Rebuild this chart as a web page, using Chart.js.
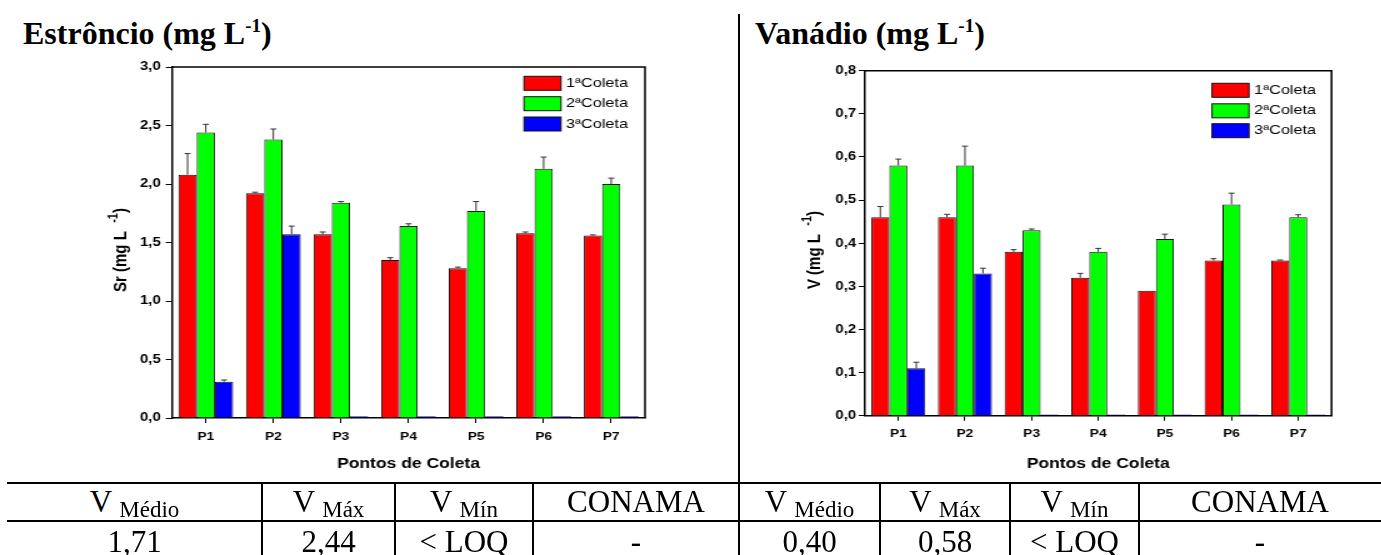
<!DOCTYPE html>
<html>
<head>
<meta charset="utf-8">
<script src="https://cdn.jsdelivr.net/npm/chart.js@4.4.0/dist/chart.umd.min.js"></script>
<style>
  body { margin: 0; width: 1381px; height: 555px; position: relative; background: #fff; overflow: hidden; font-family: "Liberation Serif", "Times New Roman", serif; }
  .title { position: absolute; top: 16.5px; font-weight: bold; font-size: 32px; line-height: 32px; white-space: nowrap; }
  .title span { font-size: 19px; position: relative; top: -12px; }
  .wrap { position: absolute; top: 0; transform: scaleX(1.25); transform-origin: 0 0; }
  .line { position: absolute; background: #000; }
  .cell { position: absolute; text-align: center; font-size: 31px; line-height: 31px; white-space: nowrap; }
  .cell span { font-size: 23px; position: relative; top: 4.5px; }
</style>
</head>
<body>
<div class="title" style="left:23px">Estrôncio (mg L<span>-1</span>)</div>
<div class="title" style="left:755px">Vanádio (mg L<span>-1</span>)</div>
<div class="wrap" style="left:0"><canvas id="sr" width="591" height="477"></canvas></div>
<div class="wrap" style="left:740px"><canvas id="v" width="513" height="477"></canvas></div>
<div id="table"></div>

<script>
// categories and series
const pontos = ["P1", "P2", "P3", "P4", "P5", "P6", "P7"];
const coletas = ["1ªColeta", "2ªColeta", "3ªColeta"];
const cores = ["#FF0000", "#00FF00", "#0000FF"];

// Estroncio (mg/L)
const sr1 = [2.08, 1.92, 1.57, 1.35, 1.28, 1.58, 1.56];
const sr2 = [2.44, 2.38, 1.84, 1.64, 1.77, 2.13, 2.00];
const sr3 = [0.31, 1.57, 0.015, 0.015, 0.015, 0.015, 0.015];
const sr1Err = [0.18, 0.01, 0.02, 0.02, 0.01, 0.01, 0.005];
const sr2Err = [0.07, 0.09, 0.01, 0.02, 0.08, 0.10, 0.05];
const sr3Err = [0.015, 0.07, 0, 0, 0, 0, 0];

// Vanadio (mg/L)
const v1 = [0.46, 0.46, 0.38, 0.32, 0.29, 0.36, 0.36];
const v2 = [0.58, 0.58, 0.43, 0.38, 0.41, 0.49, 0.46];
const v3 = [0.11, 0.33, 0.003, 0.003, 0.003, 0.003, 0.003];
const v1Err = [0.025, 0.007, 0.005, 0.01, 0, 0.004, 0.001];
const v2Err = [0.015, 0.045, 0.003, 0.008, 0.011, 0.026, 0.006];
const v3Err = [0.014, 0.012, 0, 0, 0, 0, 0];

// table below the charts
const statHeads = [["V", "Médio"], ["V", "Máx"], ["V", "Mín"], ["CONAMA", ""]];
const srStats = ["1,71", "2,44", "< LOQ", "-"];
const vStats = ["0,40", "0,58", "< LOQ", "-"];

Chart.defaults.font.family = '"Liberation Sans", Arial, sans-serif';
Chart.defaults.color = "#000";

// upward-only error bars with a small cap
const errorBars = {
  id: "errorBars",
  afterDatasetsDraw(chart) {
    const { ctx } = chart;
    const y = chart.scales.y;
    ctx.save();
    ctx.strokeStyle = "#333";
    ctx.lineWidth = 1;
    chart.data.datasets.forEach((ds, i) => {
      chart.getDatasetMeta(i).data.forEach((bar, j) => {
        const e = ds.errors[j];
        if (!e) return;
        const top = y.getPixelForValue(ds.data[j] + e);
        ctx.beginPath();
        ctx.moveTo(bar.x, bar.y);
        ctx.lineTo(bar.x, top);
        ctx.moveTo(bar.x - 2.4, top);
        ctx.lineTo(bar.x + 2.4, top);
        ctx.stroke();
      });
    });
    ctx.restore();
  }
};

// closes the plot box, draws the legend and the rotated y title
const frame = {
  id: "frame",
  afterDraw(chart, args, opts) {
    const { ctx, chartArea: a } = chart;
    ctx.save();
    ctx.strokeStyle = "#000";
    ctx.lineWidth = 1.5;
    ctx.beginPath();
    ctx.moveTo(a.left, a.top);
    ctx.lineTo(a.right, a.top);
    ctx.lineTo(a.right, a.bottom);
    ctx.stroke();

    // legend
    ctx.lineWidth = 1;
    ctx.font = '13px "Liberation Sans"';
    ctx.textBaseline = "middle";
    chart.data.datasets.forEach((ds, i) => {
      const cy = opts.legendY[i];
      ctx.fillStyle = ds.backgroundColor;
      ctx.fillRect(opts.legendX, cy - 7, 29.6, 14);
      ctx.strokeStyle = "#111";
      ctx.strokeRect(opts.legendX, cy - 7, 29.6, 14);
      ctx.fillStyle = "#000";
      ctx.fillText(ds.label, opts.legendX + 33.6, cy);
    });

    // y title with superscript
    const main = opts.yTitle + " (mg L  ";
    ctx.translate(opts.yTitleX, opts.yTitleY);
    ctx.rotate(-Math.PI / 2);
    ctx.font = 'bold 15px "Liberation Sans"';
    const w1 = ctx.measureText(main).width;
    const w3 = ctx.measureText(")").width;
    ctx.font = 'bold 11px "Liberation Sans"';
    const w2 = ctx.measureText("-1").width;
    const x = -(w1 + w2 + w3) / 2;
    ctx.textAlign = "left";
    ctx.font = 'bold 15px "Liberation Sans"';
    ctx.fillText(main, x, 0);
    ctx.font = 'bold 11px "Liberation Sans"';
    ctx.fillText("-1", x + w1, -6);
    ctx.font = 'bold 15px "Liberation Sans"';
    ctx.fillText(")", x + w1 + w2, 0);
    ctx.restore();
  }
};

function makeChart(id, series, errors, yMax, step, lay) {
  new Chart(document.getElementById(id), {
    type: "bar",
    data: {
      labels: pontos,
      datasets: series.map((d, i) => ({
        label: coletas[i],
        data: d,
        errors: errors[i],
        backgroundColor: cores[i],
        borderColor: "#111",
        borderWidth: 1,
        barPercentage: 1.0,
        categoryPercentage: 0.81
      }))
    },
    options: {
      responsive: false,
      animation: false,
      layout: { padding: { top: lay.top, right: lay.right, left: 0, bottom: 0 } },
      plugins: {
        legend: { display: false },
        tooltip: { enabled: false },
        frame: { legendX: lay.legendX, legendY: lay.legendY, yTitle: lay.yTitle, yTitleX: lay.yTitleX, yTitleY: lay.yTitleY }
      },
      scales: {
        x: {
          offset: true,
          grid: { display: true, drawOnChartArea: false, offset: false, tickLength: 5, color: "#000", lineWidth: 1 },
          border: { display: true, color: "#000", width: 1.5 },
          ticks: { font: { size: 11, weight: "bold" }, padding: 7 },
          title: { display: true, text: "Pontos de Coleta", font: { size: 14, weight: "bold" } },
          afterFit(s) { s.height = lay.xHeight; }
        },
        y: {
          min: 0,
          max: yMax,
          grid: { display: true, drawOnChartArea: false, tickLength: 5, color: "#000", lineWidth: 1 },
          border: { display: true, color: "#000", width: 1.5 },
          ticks: {
            stepSize: step,
            padding: lay.tickPad,
            font: { size: 12, weight: "bold" },
            callback: (v) => v.toFixed(1).replace(".", ",")
          },
          afterFit(s) { s.width = lay.yWidth; }
        }
      }
    },
    plugins: [errorBars, frame]
  });
}

makeChart("sr", [sr1, sr2, sr3], [sr1Err, sr2Err, sr3Err], 3.0, 0.5, {
  top: 67, right: 75, yWidth: 137.6, xHeight: 59, tickPad: 4,
  legendX: 419.2, legendY: [83.3, 103.7, 124], yTitle: "Sr", yTitleX: 97, yTitleY: 250
});
makeChart("v", [v1, v2, v3], [v1Err, v2Err, v3Err], 0.8, 0.1, {
  top: 70.7, right: 39.8, yWidth: 100, xHeight: 61.3, tickPad: 2,
  legendX: 377.6, legendY: [90.3, 110.8, 130.7], yTitle: "V", yTitleX: 60, yTitleY: 250
});

// table
const table = document.getElementById("table");
function add(cls, style, html) {
  const d = document.createElement("div");
  d.className = cls;
  d.style.cssText = style;
  if (html) d.innerHTML = html;
  table.appendChild(d);
}
const colsLeft = [7, 262, 395, 533, 739];
const colsRight = [739, 880, 1010, 1139, 1381];
add("line", "left:7px;width:1374px;top:482px;height:2px");
add("line", "left:7px;width:1374px;top:520px;height:2px");
add("line", "left:738px;width:2px;top:14px;height:541px");
[colsLeft, colsRight].forEach((cols, k) => {
  const stats = k === 0 ? srStats : vStats;
  for (let i = 0; i < 4; i++) {
    const l = cols[i], w = cols[i + 1] - cols[i];
    if (i > 0) add("line", `left:${l - 0.75}px;width:1.5px;top:483px;height:72px`);
    const h = statHeads[i];
    add("cell", `left:${l}px;width:${w}px;top:486px`, h[1] ? `${h[0]} <span>${h[1]}</span>` : h[0]);
    add("cell", `left:${l}px;width:${w}px;top:526px`, stats[i].replace("<", "&lt;"));
  }
});
</script>
</body>
</html>
